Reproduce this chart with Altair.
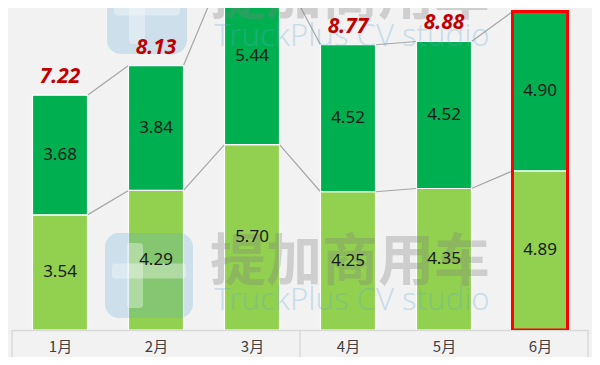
import json
import altair as alt
import pandas as pd

months = ["1月", "2月", "3月", "4月", "5月", "6月"]
lower = [3.54, 4.29, 5.70, 4.25, 4.35, 4.89]
upper = [3.68, 3.84, 5.44, 4.52, 4.52, 4.90]
totals = [7.22, 8.13, 11.14, 8.77, 8.88, 9.79]
highlight = ["6月"]
wm_cn = "提加商用车"
wm_en = "TruckPlus CV studio"

df = pd.DataFrame({"m": months, "lower": lower, "upper": upper, "total": totals})
df["idx"] = range(len(months))
df["top"] = df["lower"] + df["upper"]
df["lower_mid"] = df["lower"] / 2
df["upper_mid"] = df["lower"] + df["upper"] / 2

seg = pd.DataFrame({
    "idx": df["idx"][:-1].values,
    "lower": df["lower"][:-1].values,
    "next_lower": df["lower"][1:].values,
    "top": df["top"][:-1].values,
    "next_top": df["top"][1:].values,
})

W, H = 576, 322
HW = 0.2865  # half bar width in category units
xs = alt.Scale(domain=[-0.5, len(months) - 0.5], nice=False, zero=False)
ys = alt.Scale(domain=[0, 9.9], nice=False, zero=True)

label_expr = json.dumps(months, ensure_ascii=False) + "[datum.value]"
xaxis = alt.Axis(title=None, values=list(range(len(months))), labelExpr=label_expr,
                 labelAngle=0, ticks=False, grid=False,
                 domainColor="#d9d9d9", domainWidth=1.5,
                 labelFont="Noto Sans CJK SC", labelFontSize=15,
                 labelColor="#404040", labelPadding=9)

base = alt.Chart(df).transform_calculate(
    x0=f"datum.idx - {HW}", x1=f"datum.idx + {HW}")

bar_low = base.mark_bar(color="#92d050", stroke="white", strokeWidth=1.2, clip=True).encode(
    x=alt.X("x0:Q", scale=xs, axis=xaxis), x2="x1:Q",
    y=alt.Y("lower:Q", scale=ys, axis=None), y2=alt.datum(0))
bar_up = base.mark_bar(color="#00b050", stroke="white", strokeWidth=1.2, clip=True).encode(
    x=alt.X("x0:Q", scale=xs), x2="x1:Q",
    y=alt.Y("lower:Q", scale=ys), y2="top:Q")

outline = base.transform_filter(
    alt.FieldOneOfPredicate(field="m", oneOf=highlight)
).mark_bar(fillOpacity=0, stroke="#ff0000", strokeWidth=3, clip=True).encode(
    x=alt.X("x0:Q", scale=xs), x2="x1:Q",
    y=alt.Y("top:Q", scale=ys), y2=alt.datum(0))

segb = alt.Chart(seg).transform_calculate(
    sx0=f"datum.idx + {HW}", sx1=f"datum.idx + 1 - {HW}")
line_low = segb.mark_rule(color="#a6a6a6", strokeWidth=1.2, clip=True).encode(
    x=alt.X("sx0:Q", scale=xs), x2="sx1:Q",
    y=alt.Y("lower:Q", scale=ys), y2="next_lower:Q")
line_top = segb.mark_rule(color="#a6a6a6", strokeWidth=1.2, clip=True).encode(
    x=alt.X("sx0:Q", scale=xs), x2="sx1:Q",
    y=alt.Y("top:Q", scale=ys), y2="next_top:Q")

txt_low = base.mark_text(font="Noto Sans", fontSize=17, color="#1a1a1a").encode(
    x=alt.X("idx:Q", scale=xs), y=alt.Y("lower_mid:Q", scale=ys),
    text=alt.Text("lower:Q", format=".2f"))
txt_up = base.mark_text(font="Noto Sans", fontSize=17, color="#1a1a1a", clip=True).encode(
    x=alt.X("idx:Q", scale=xs), y=alt.Y("upper_mid:Q", scale=ys),
    text=alt.Text("upper:Q", format=".2f"))
txt_tot = base.mark_text(font="Noto Sans", fontSize=21, fontWeight="bold", fontStyle="italic",
                         color="#c00000", baseline="alphabetic", dy=-12, clip=True).encode(
    x=alt.X("idx:Q", scale=xs), y=alt.Y("total:Q", scale=ys),
    text=alt.Text("total:Q", format=".2f"))

one = pd.DataFrame({"a": [0]})
deco = []
for px in [0, 288, 576]:
    deco.append(alt.Chart(one).mark_rule(color="#d9d9d9", strokeWidth=1.5).encode(
        x=alt.value(px), y=alt.value(H), y2=alt.value(H + 30)))
# watermark logos: rounded square with a white cross pattern
for (lx0, lx1, ly0, ly1) in [(93, 181, 225, 310), (95, 175, -37, 46)]:
    deco.append(alt.Chart(one).mark_rect(cornerRadius=14, color="#5fa8d3", opacity=0.25).encode(
        x=alt.value(lx0), x2=alt.value(lx1), y=alt.value(ly0), y2=alt.value(ly1)))
    cy = (ly0 + ly1) / 2
    deco.append(alt.Chart(one).mark_rect(cornerRadius=3, color="white", opacity=0.35).encode(
        x=alt.value(lx0 + 7), x2=alt.value(lx1 - 7), y=alt.value(cy - 12), y2=alt.value(cy + 3)))
    deco.append(alt.Chart(one).mark_rect(cornerRadius=3, color="white", opacity=0.35).encode(
        x=alt.value(lx0 + 22), x2=alt.value(lx0 + 38), y=alt.value(ly0 + 10), y2=alt.value(ly1 - 10)))
for yy in [255, -11]:
    deco.append(alt.Chart(one).mark_text(font="Noto Sans CJK SC", fontSize=56, fontWeight="bold",
                                         color="#7f7f7f", opacity=0.3, text=wm_cn).encode(
        x=alt.value(338), y=alt.value(yy)))
for yy in [293, 28.5]:
    deco.append(alt.Chart(one).mark_text(font="Noto Sans", fontSize=31, fontWeight=300,
                                         color="#5fa8d3", opacity=0.28, text=wm_en).encode(
        x=alt.value(340), y=alt.value(yy)))

chart = alt.layer(
    bar_low, line_low, line_top, bar_up, outline, *deco, txt_low, txt_up, txt_tot
).properties(
    width=W, height=H,
    autosize=alt.AutoSizeParams(type="none"),
    padding={"left": 4, "right": 4, "top": 0, "bottom": 27},
    background="#f2f2f2",
).configure_view(stroke=None)

chart.save("out.html", embed_options={"renderer": "svg", "actions": False})
